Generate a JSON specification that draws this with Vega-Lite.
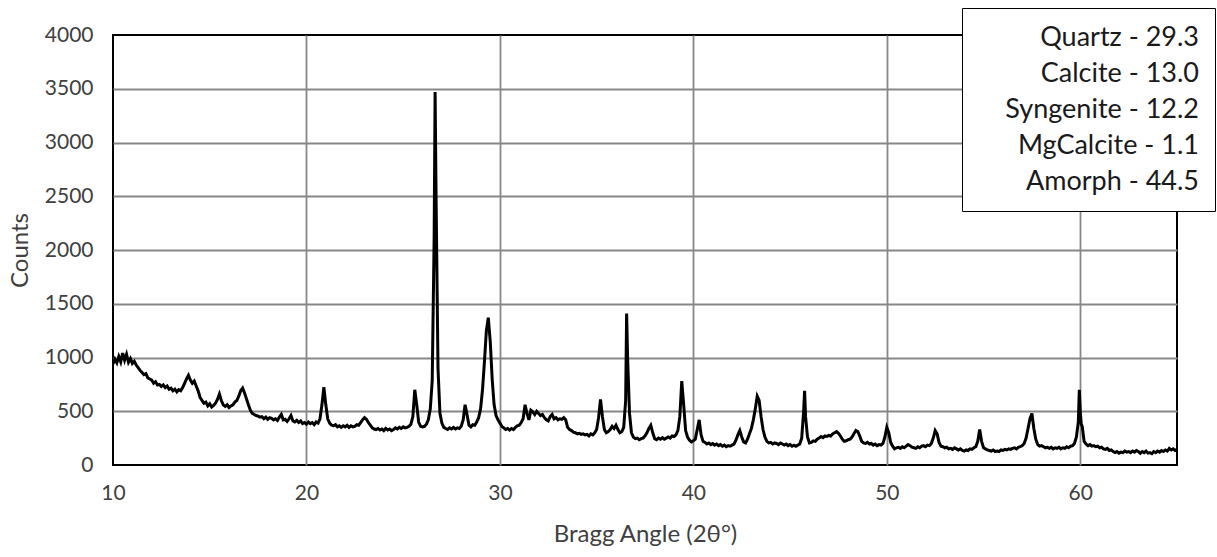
{
 "$schema": "https://vega.github.io/schema/vega-lite/v6.json",
 "width": 1064,
 "height": 430,
 "autosize": {"type": "none"},
 "padding": {"left": 113, "top": 35, "right": 40, "bottom": 92},
 "background": "white",
 "config": {"view": {"stroke": "black", "strokeWidth": 2}, "font": "Lato"},
 "datasets": {
  "xrd": [
{"angle":10.0,"counts":940},{"angle":10.1,"counts":985},{"angle":10.2,"counts":950},{"angle":10.3,"counts":1010},{"angle":10.4,"counts":960},{"angle":10.5,"counts":1040},{"angle":10.6,"counts":975},{"angle":10.7,"counts":1030},{"angle":10.8,"counts":955},{"angle":10.9,"counts":990},
{"angle":11.0,"counts":945},{"angle":11.1,"counts":965},{"angle":11.2,"counts":930},{"angle":11.3,"counts":905},{"angle":11.4,"counts":880},{"angle":11.5,"counts":860},{"angle":11.6,"counts":840},{"angle":11.7,"counts":850},{"angle":11.8,"counts":810},{"angle":11.9,"counts":800},
{"angle":12.0,"counts":790},{"angle":12.1,"counts":760},{"angle":12.2,"counts":775},{"angle":12.3,"counts":745},{"angle":12.4,"counts":750},{"angle":12.5,"counts":730},{"angle":12.6,"counts":745},{"angle":12.7,"counts":720},{"angle":12.8,"counts":735},{"angle":12.9,"counts":705},
{"angle":13.0,"counts":715},{"angle":13.1,"counts":690},{"angle":13.2,"counts":705},{"angle":13.3,"counts":680},{"angle":13.4,"counts":700},{"angle":13.5,"counts":690},{"angle":13.6,"counts":720},{"angle":13.7,"counts":760},{"angle":13.8,"counts":800},{"angle":13.9,"counts":835},
{"angle":14.0,"counts":790},{"angle":14.1,"counts":760},{"angle":14.2,"counts":780},{"angle":14.3,"counts":735},{"angle":14.4,"counts":690},{"angle":14.5,"counts":630},{"angle":14.6,"counts":600},{"angle":14.7,"counts":575},{"angle":14.8,"counts":585},{"angle":14.9,"counts":550},
{"angle":15.0,"counts":570},{"angle":15.1,"counts":540},{"angle":15.2,"counts":555},{"angle":15.3,"counts":575},{"angle":15.4,"counts":610},{"angle":15.5,"counts":660},{"angle":15.6,"counts":600},{"angle":15.7,"counts":560},{"angle":15.8,"counts":545},{"angle":15.9,"counts":560},
{"angle":16.0,"counts":535},{"angle":16.1,"counts":550},{"angle":16.2,"counts":560},{"angle":16.3,"counts":585},{"angle":16.4,"counts":600},{"angle":16.5,"counts":640},{"angle":16.6,"counts":690},{"angle":16.7,"counts":715},{"angle":16.8,"counts":670},{"angle":16.9,"counts":615},
{"angle":17.0,"counts":560},{"angle":17.1,"counts":510},{"angle":17.2,"counts":480},{"angle":17.3,"counts":470},{"angle":17.4,"counts":460},{"angle":17.5,"counts":455},{"angle":17.6,"counts":445},{"angle":17.7,"counts":450},{"angle":17.8,"counts":430},{"angle":17.9,"counts":445},
{"angle":18.0,"counts":425},{"angle":18.1,"counts":440},{"angle":18.2,"counts":435},{"angle":18.3,"counts":420},{"angle":18.4,"counts":430},{"angle":18.5,"counts":415},{"angle":18.6,"counts":445},{"angle":18.7,"counts":470},{"angle":18.8,"counts":420},{"angle":18.9,"counts":425},
{"angle":19.0,"counts":405},{"angle":19.1,"counts":430},{"angle":19.2,"counts":460},{"angle":19.3,"counts":410},{"angle":19.4,"counts":400},{"angle":19.5,"counts":415},{"angle":19.6,"counts":395},{"angle":19.7,"counts":410},{"angle":19.8,"counts":385},{"angle":19.9,"counts":395},
{"angle":20.0,"counts":380},{"angle":20.1,"counts":400},{"angle":20.2,"counts":385},{"angle":20.3,"counts":395},{"angle":20.4,"counts":375},{"angle":20.5,"counts":400},{"angle":20.6,"counts":390},{"angle":20.7,"counts":430},{"angle":20.8,"counts":560},{"angle":20.9,"counts":725},
{"angle":21.0,"counts":560},{"angle":21.1,"counts":430},{"angle":21.2,"counts":390},{"angle":21.3,"counts":370},{"angle":21.4,"counts":365},{"angle":21.5,"counts":375},{"angle":21.6,"counts":355},{"angle":21.7,"counts":365},{"angle":21.8,"counts":350},{"angle":21.9,"counts":365},
{"angle":22.0,"counts":355},{"angle":22.1,"counts":370},{"angle":22.2,"counts":350},{"angle":22.3,"counts":365},{"angle":22.4,"counts":355},{"angle":22.5,"counts":360},{"angle":22.6,"counts":375},{"angle":22.7,"counts":370},{"angle":22.8,"counts":395},{"angle":22.9,"counts":420},
{"angle":23.0,"counts":440},{"angle":23.1,"counts":425},{"angle":23.2,"counts":395},{"angle":23.3,"counts":370},{"angle":23.4,"counts":345},{"angle":23.5,"counts":335},{"angle":23.6,"counts":330},{"angle":23.7,"counts":340},{"angle":23.8,"counts":325},{"angle":23.9,"counts":335},
{"angle":24.0,"counts":320},{"angle":24.1,"counts":340},{"angle":24.2,"counts":325},{"angle":24.3,"counts":335},{"angle":24.4,"counts":320},{"angle":24.5,"counts":330},{"angle":24.6,"counts":345},{"angle":24.7,"counts":335},{"angle":24.8,"counts":350},{"angle":24.9,"counts":340},
{"angle":25.0,"counts":355},{"angle":25.1,"counts":345},{"angle":25.2,"counts":350},{"angle":25.3,"counts":360},{"angle":25.4,"counts":380},{"angle":25.5,"counts":450},{"angle":25.6,"counts":700},{"angle":25.7,"counts":560},{"angle":25.8,"counts":400},{"angle":25.9,"counts":360},
{"angle":26.0,"counts":355},{"angle":26.1,"counts":360},{"angle":26.2,"counts":380},{"angle":26.3,"counts":420},{"angle":26.4,"counts":520},{"angle":26.5,"counts":780},{"angle":26.6,"counts":2100},{"angle":26.65,"counts":3470},{"angle":26.7,"counts":2500},{"angle":26.8,"counts":900},{"angle":26.9,"counts":480},
{"angle":27.0,"counts":390},{"angle":27.1,"counts":350},{"angle":27.2,"counts":340},{"angle":27.3,"counts":330},{"angle":27.4,"counts":345},{"angle":27.5,"counts":335},{"angle":27.6,"counts":350},{"angle":27.7,"counts":335},{"angle":27.8,"counts":345},{"angle":27.9,"counts":340},
{"angle":28.0,"counts":360},{"angle":28.1,"counts":420},{"angle":28.2,"counts":560},{"angle":28.3,"counts":470},{"angle":28.4,"counts":370},{"angle":28.5,"counts":355},{"angle":28.6,"counts":375},{"angle":28.7,"counts":370},{"angle":28.8,"counts":400},{"angle":28.9,"counts":440},
{"angle":29.0,"counts":520},{"angle":29.1,"counts":700},{"angle":29.2,"counts":960},{"angle":29.3,"counts":1250},{"angle":29.4,"counts":1370},{"angle":29.5,"counts":1150},{"angle":29.6,"counts":800},{"angle":29.7,"counts":560},{"angle":29.8,"counts":460},{"angle":29.9,"counts":420},
{"angle":30.0,"counts":390},{"angle":30.1,"counts":360},{"angle":30.2,"counts":345},{"angle":30.3,"counts":330},{"angle":30.4,"counts":340},{"angle":30.5,"counts":325},{"angle":30.6,"counts":340},{"angle":30.7,"counts":330},{"angle":30.8,"counts":350},{"angle":30.9,"counts":365},
{"angle":31.0,"counts":370},{"angle":31.1,"counts":395},{"angle":31.2,"counts":430},{"angle":31.3,"counts":560},{"angle":31.4,"counts":480},{"angle":31.5,"counts":420},{"angle":31.6,"counts":510},{"angle":31.7,"counts":495},{"angle":31.8,"counts":470},{"angle":31.9,"counts":500},
{"angle":32.0,"counts":480},{"angle":32.1,"counts":460},{"angle":32.2,"counts":470},{"angle":32.3,"counts":440},{"angle":32.4,"counts":420},{"angle":32.5,"counts":410},{"angle":32.6,"counts":450},{"angle":32.7,"counts":470},{"angle":32.8,"counts":430},{"angle":32.9,"counts":440},
{"angle":33.0,"counts":420},{"angle":33.1,"counts":430},{"angle":33.2,"counts":425},{"angle":33.3,"counts":440},{"angle":33.4,"counts":420},{"angle":33.5,"counts":350},{"angle":33.6,"counts":330},{"angle":33.7,"counts":320},{"angle":33.8,"counts":305},{"angle":33.9,"counts":300},
{"angle":34.0,"counts":290},{"angle":34.1,"counts":295},{"angle":34.2,"counts":285},{"angle":34.3,"counts":290},{"angle":34.4,"counts":280},{"angle":34.5,"counts":285},{"angle":34.6,"counts":270},{"angle":34.7,"counts":290},{"angle":34.8,"counts":280},{"angle":34.9,"counts":300},
{"angle":35.0,"counts":330},{"angle":35.1,"counts":440},{"angle":35.2,"counts":610},{"angle":35.3,"counts":450},{"angle":35.4,"counts":330},{"angle":35.5,"counts":300},{"angle":35.6,"counts":310},{"angle":35.7,"counts":330},{"angle":35.8,"counts":360},{"angle":35.9,"counts":340},
{"angle":36.0,"counts":370},{"angle":36.1,"counts":330},{"angle":36.2,"counts":300},{"angle":36.3,"counts":310},{"angle":36.4,"counts":350},{"angle":36.5,"counts":600},{"angle":36.55,"counts":1410},{"angle":36.6,"counts":1000},{"angle":36.7,"counts":480},{"angle":36.8,"counts":300},{"angle":36.9,"counts":260},
{"angle":37.0,"counts":245},{"angle":37.1,"counts":250},{"angle":37.2,"counts":235},{"angle":37.3,"counts":245},{"angle":37.4,"counts":250},{"angle":37.5,"counts":270},{"angle":37.6,"counts":300},{"angle":37.7,"counts":340},{"angle":37.8,"counts":370},{"angle":37.9,"counts":300},
{"angle":38.0,"counts":245},{"angle":38.1,"counts":235},{"angle":38.2,"counts":250},{"angle":38.3,"counts":240},{"angle":38.4,"counts":255},{"angle":38.5,"counts":240},{"angle":38.6,"counts":250},{"angle":38.7,"counts":260},{"angle":38.8,"counts":250},{"angle":38.9,"counts":270},
{"angle":39.0,"counts":265},{"angle":39.1,"counts":280},{"angle":39.2,"counts":320},{"angle":39.3,"counts":450},{"angle":39.4,"counts":780},{"angle":39.5,"counts":560},{"angle":39.6,"counts":320},{"angle":39.7,"counts":260},{"angle":39.8,"counts":230},{"angle":39.9,"counts":215},
{"angle":40.0,"counts":225},{"angle":40.1,"counts":240},{"angle":40.2,"counts":330},{"angle":40.3,"counts":420},{"angle":40.4,"counts":280},{"angle":40.5,"counts":220},{"angle":40.6,"counts":210},{"angle":40.7,"counts":195},{"angle":40.8,"counts":205},{"angle":40.9,"counts":190},
{"angle":41.0,"counts":200},{"angle":41.1,"counts":185},{"angle":41.2,"counts":195},{"angle":41.3,"counts":180},{"angle":41.4,"counts":190},{"angle":41.5,"counts":175},{"angle":41.6,"counts":185},{"angle":41.7,"counts":170},{"angle":41.8,"counts":180},{"angle":41.9,"counts":175},
{"angle":42.0,"counts":185},{"angle":42.1,"counts":195},{"angle":42.2,"counts":230},{"angle":42.3,"counts":280},{"angle":42.4,"counts":320},{"angle":42.5,"counts":260},{"angle":42.6,"counts":215},{"angle":42.7,"counts":205},{"angle":42.8,"counts":240},{"angle":42.9,"counts":290},
{"angle":43.0,"counts":340},{"angle":43.1,"counts":420},{"angle":43.2,"counts":520},{"angle":43.3,"counts":640},{"angle":43.4,"counts":600},{"angle":43.5,"counts":450},{"angle":43.6,"counts":330},{"angle":43.7,"counts":260},{"angle":43.8,"counts":220},{"angle":43.9,"counts":205},
{"angle":44.0,"counts":210},{"angle":44.1,"counts":195},{"angle":44.2,"counts":205},{"angle":44.3,"counts":200},{"angle":44.4,"counts":190},{"angle":44.5,"counts":205},{"angle":44.6,"counts":195},{"angle":44.7,"counts":185},{"angle":44.8,"counts":195},{"angle":44.9,"counts":180},
{"angle":45.0,"counts":190},{"angle":45.1,"counts":175},{"angle":45.2,"counts":185},{"angle":45.3,"counts":175},{"angle":45.4,"counts":185},{"angle":45.5,"counts":195},{"angle":45.6,"counts":250},{"angle":45.7,"counts":500},{"angle":45.75,"counts":690},{"angle":45.8,"counts":450},{"angle":45.9,"counts":260},
{"angle":46.0,"counts":205},{"angle":46.1,"counts":210},{"angle":46.2,"counts":225},{"angle":46.3,"counts":220},{"angle":46.4,"counts":240},{"angle":46.5,"counts":250},{"angle":46.6,"counts":265},{"angle":46.7,"counts":255},{"angle":46.8,"counts":270},{"angle":46.9,"counts":265},
{"angle":47.0,"counts":275},{"angle":47.1,"counts":270},{"angle":47.2,"counts":290},{"angle":47.3,"counts":300},{"angle":47.4,"counts":310},{"angle":47.5,"counts":295},{"angle":47.6,"counts":270},{"angle":47.7,"counts":240},{"angle":47.8,"counts":220},{"angle":47.9,"counts":225},
{"angle":48.0,"counts":235},{"angle":48.1,"counts":240},{"angle":48.2,"counts":260},{"angle":48.3,"counts":290},{"angle":48.4,"counts":320},{"angle":48.5,"counts":310},{"angle":48.6,"counts":270},{"angle":48.7,"counts":220},{"angle":48.8,"counts":205},{"angle":48.9,"counts":200},
{"angle":49.0,"counts":210},{"angle":49.1,"counts":195},{"angle":49.2,"counts":200},{"angle":49.3,"counts":185},{"angle":49.4,"counts":195},{"angle":49.5,"counts":180},{"angle":49.6,"counts":190},{"angle":49.7,"counts":185},{"angle":49.8,"counts":200},{"angle":49.9,"counts":260},
{"angle":50.0,"counts":350},{"angle":50.1,"counts":300},{"angle":50.2,"counts":210},{"angle":50.3,"counts":175},{"angle":50.4,"counts":150},{"angle":50.5,"counts":160},{"angle":50.6,"counts":165},{"angle":50.7,"counts":155},{"angle":50.8,"counts":170},{"angle":50.9,"counts":160},
{"angle":51.0,"counts":175},{"angle":51.1,"counts":190},{"angle":51.2,"counts":180},{"angle":51.3,"counts":165},{"angle":51.4,"counts":160},{"angle":51.5,"counts":155},{"angle":51.6,"counts":170},{"angle":51.7,"counts":160},{"angle":51.8,"counts":175},{"angle":51.9,"counts":180},
{"angle":52.0,"counts":170},{"angle":52.1,"counts":185},{"angle":52.2,"counts":180},{"angle":52.3,"counts":200},{"angle":52.4,"counts":250},{"angle":52.5,"counts":320},{"angle":52.6,"counts":290},{"angle":52.7,"counts":210},{"angle":52.8,"counts":175},{"angle":52.9,"counts":170},
{"angle":53.0,"counts":160},{"angle":53.1,"counts":165},{"angle":53.2,"counts":150},{"angle":53.3,"counts":155},{"angle":53.4,"counts":145},{"angle":53.5,"counts":160},{"angle":53.6,"counts":150},{"angle":53.7,"counts":140},{"angle":53.8,"counts":150},{"angle":53.9,"counts":135},
{"angle":54.0,"counts":130},{"angle":54.1,"counts":140},{"angle":54.2,"counts":135},{"angle":54.3,"counts":150},{"angle":54.4,"counts":145},{"angle":54.5,"counts":160},{"angle":54.6,"counts":170},{"angle":54.7,"counts":220},{"angle":54.8,"counts":330},{"angle":54.9,"counts":220},
{"angle":55.0,"counts":160},{"angle":55.1,"counts":150},{"angle":55.2,"counts":140},{"angle":55.3,"counts":135},{"angle":55.4,"counts":130},{"angle":55.5,"counts":140},{"angle":55.6,"counts":125},{"angle":55.7,"counts":130},{"angle":55.8,"counts":125},{"angle":55.9,"counts":140},
{"angle":56.0,"counts":135},{"angle":56.1,"counts":145},{"angle":56.2,"counts":140},{"angle":56.3,"counts":150},{"angle":56.4,"counts":145},{"angle":56.5,"counts":155},{"angle":56.6,"counts":160},{"angle":56.7,"counts":150},{"angle":56.8,"counts":165},{"angle":56.9,"counts":170},
{"angle":57.0,"counts":180},{"angle":57.1,"counts":200},{"angle":57.2,"counts":250},{"angle":57.3,"counts":340},{"angle":57.4,"counts":430},{"angle":57.5,"counts":480},{"angle":57.6,"counts":340},{"angle":57.7,"counts":240},{"angle":57.8,"counts":190},{"angle":57.9,"counts":175},
{"angle":58.0,"counts":180},{"angle":58.1,"counts":170},{"angle":58.2,"counts":160},{"angle":58.3,"counts":165},{"angle":58.4,"counts":155},{"angle":58.5,"counts":165},{"angle":58.6,"counts":150},{"angle":58.7,"counts":160},{"angle":58.8,"counts":155},{"angle":58.9,"counts":165},
{"angle":59.0,"counts":150},{"angle":59.1,"counts":160},{"angle":59.2,"counts":155},{"angle":59.3,"counts":170},{"angle":59.4,"counts":160},{"angle":59.5,"counts":175},{"angle":59.6,"counts":180},{"angle":59.7,"counts":200},{"angle":59.8,"counts":260},{"angle":59.9,"counts":400},{"angle":59.95,"counts":700},
{"angle":60.0,"counts":500},{"angle":60.05,"counts":380},{"angle":60.1,"counts":360},{"angle":60.2,"counts":220},{"angle":60.3,"counts":195},{"angle":60.4,"counts":180},{"angle":60.5,"counts":190},{"angle":60.6,"counts":175},{"angle":60.7,"counts":180},{"angle":60.8,"counts":170},{"angle":60.9,"counts":175},
{"angle":61.0,"counts":160},{"angle":61.1,"counts":165},{"angle":61.2,"counts":150},{"angle":61.3,"counts":145},{"angle":61.4,"counts":155},{"angle":61.5,"counts":135},{"angle":61.6,"counts":140},{"angle":61.7,"counts":125},{"angle":61.8,"counts":115},{"angle":61.9,"counts":125},
{"angle":62.0,"counts":110},{"angle":62.1,"counts":120},{"angle":62.2,"counts":115},{"angle":62.3,"counts":130},{"angle":62.4,"counts":120},{"angle":62.5,"counts":125},{"angle":62.6,"counts":115},{"angle":62.7,"counts":130},{"angle":62.8,"counts":120},{"angle":62.9,"counts":135},
{"angle":63.0,"counts":125},{"angle":63.1,"counts":110},{"angle":63.2,"counts":125},{"angle":63.3,"counts":115},{"angle":63.4,"counts":130},{"angle":63.5,"counts":110},{"angle":63.6,"counts":115},{"angle":63.7,"counts":105},{"angle":63.8,"counts":125},{"angle":63.9,"counts":115},
{"angle":64.0,"counts":130},{"angle":64.1,"counts":120},{"angle":64.2,"counts":135},{"angle":64.3,"counts":125},{"angle":64.4,"counts":140},{"angle":64.5,"counts":130},{"angle":64.6,"counts":155},{"angle":64.7,"counts":140},{"angle":64.8,"counts":150},{"angle":64.9,"counts":135},
{"angle":65.0,"counts":145}
  ],
  "phases": [
   {"label": "Quartz - 29.3"},
   {"label": "Calcite - 13.0"},
   {"label": "Syngenite - 12.2"},
   {"label": "MgCalcite - 1.1"},
   {"label": "Amorph - 44.5"}
  ]
 },
 "layer": [
  {
   "data": {"name": "xrd"},
   "mark": {"type": "line", "color": "black", "strokeWidth": 3, "clip": true},
   "encoding": {
    "x": {
     "field": "angle", "type": "quantitative",
     "scale": {"domain": [10, 65], "nice": false, "zero": false},
     "axis": {
      "values": [10, 20, 30, 40, 50, 60], "format": "d", "labelFlush": false,
      "grid": true, "gridColor": "#878787", "gridWidth": 1.8,
      "gridOpacity": {"condition": {"test": "datum.value == 10", "value": 0}, "value": 1},
      "ticks": false, "domain": false,
      "labelFont": "Lato", "labelFontSize": 21, "labelColor": "#404040", "labelPadding": 17,
      "title": "Bragg Angle (2θ°)", "titleFont": "Lato", "titleFontSize": 24,
      "titleFontWeight": "normal", "titleColor": "#404040", "titlePadding": 19
     }
    },
    "y": {
     "field": "counts", "type": "quantitative",
     "scale": {"domain": [0, 4000], "nice": false},
     "axis": {
      "values": [0, 500, 1000, 1500, 2000, 2500, 3000, 3500, 4000], "format": "d",
      "grid": true, "gridColor": "#878787", "gridWidth": 1.8,
      "gridOpacity": {"condition": {"test": "datum.value == 0 || datum.value == 4000", "value": 0}, "value": 1},
      "ticks": false, "domain": false,
      "labelFont": "Lato", "labelFontSize": 21, "labelColor": "#404040", "labelPadding": 20,
      "title": "Counts", "titleFont": "Lato", "titleFontSize": 24,
      "titleFontWeight": "normal", "titleColor": "#404040", "titlePadding": 12
     }
    }
   }
  },
  {
   "data": {"name": "phases"},
   "mark": {"type": "point", "opacity": 0},
   "encoding": {
    "color": {
     "field": "label", "type": "nominal", "sort": null,
     "scale": {"range": ["black"]},
     "legend": {
      "title": null, "orient": "none", "legendX": 849, "legendY": -27,
      "strokeColor": "black", "fillColor": "white",
      "padding": 16, "labelFont": "Lato", "labelFontSize": 27, "labelColor": "#1a1a1a",
      "labelAlign": "right", "labelLimit": 400, "labelOffset": 194,
      "symbolOpacity": 0, "symbolSize": 0, "symbolStrokeWidth": 0, "rowPadding": 8,
      "encode": {"legend": {"update": {"strokeWidth": {"value": 2}}}}
     }
    }
   }
  }
 ]
}
